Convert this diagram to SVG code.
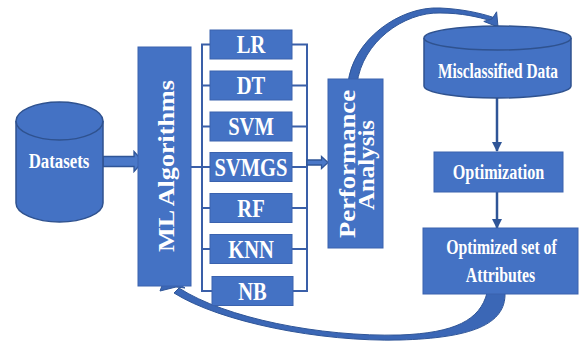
<svg xmlns="http://www.w3.org/2000/svg" width="580" height="345" viewBox="0 0 580 345">
  <style>
    .box { fill: #4472C4; stroke: #3A62AE; stroke-width: 1; }
    .cyl { fill: #4472C4; stroke: #2F528F; stroke-width: 1.5; }
    .lbl { fill: #FFFFFF; font-family: "Liberation Serif", "Times New Roman", serif; font-weight: bold; text-anchor: middle; }
    .brk { fill: none; stroke: #3A5FA8; stroke-width: 2; }
    .flow { fill: none; stroke: #2F5597; stroke-width: 2.5; }
    .band { fill: #3B67B6; stroke: #2F5597; stroke-width: 1; stroke-linejoin: round; }
    .block { fill: #4A78C8; stroke: #2F5597; stroke-width: 1.3; stroke-linejoin: miter; }
  </style>
  <defs>
    <marker id="head" viewBox="0 0 10 10" refX="9" refY="5" markerWidth="4" markerHeight="4" orient="auto" markerUnits="strokeWidth">
      <path d="M0,0 L10,5 L0,10 Z" fill="#2F5597"/>
    </marker>
  </defs>

  <rect width="580" height="345" fill="#FFFFFF"/>

  <!-- connectors -->
  <g id="connectors">
    <!-- Datasets to ML Algorithms -->
    <polygon class="block" points="103,156.5 134,156.5 134,151.5 143,161.5 134,171.5 134,166.5 103,166.5"/>
    <!-- ML Algorithms to algorithm list -->
    <line class="brk" x1="191" y1="167" x2="202" y2="167"/>
    <!-- left bracket -->
    <path class="brk" d="M210,44.5 H202 V291 H212 M202,85.5 H210 M202,126.5 H210 M202,167 H210 M202,208 H210 M202,249 H210"/>
    <!-- right bracket -->
    <path class="brk" d="M292,44.5 H307 V291 H293 M292,85.5 H307 M292,126.5 H307 M292,167 H307 M292,208 H307 M292,249 H307"/>
    <!-- list to Performance Analysis -->
    <polygon class="block" points="307,160 321.5,160 321.5,156.5 328,162.5 321.5,168.5 321.5,165 307,165"/>
    <!-- Performance Analysis to Misclassified Data -->
    <path class="band" d="M348,84 C352,40 400,6 440,8 C462,9 480,13 492.8,17.2 L491.2,20.8 C478,17 462,13 440,13 C404,12 362,42 357,84 Z"/>
    <polygon class="band" points="498,27 483.8,21.4 492,19 496.6,11.8"/>
    <!-- Misclassified Data to Optimization -->
    <line class="flow" x1="497" y1="98" x2="497" y2="151" marker-end="url(#head)"/>
    <!-- Optimization to Optimized set of Attributes -->
    <line class="flow" x1="497" y1="192" x2="497" y2="228" marker-end="url(#head)"/>
    <!-- Optimized set of Attributes back to ML Algorithms -->
    <path class="band" d="M505,293 C506,325 470,338 400,340 C320,342 220,322 174,293 L179,288 C225,318 320,337 400,335 C455,333 480,320 487,293 Z"/>
    <polygon class="band" points="166,275 185,288 176,287 160,291"/>
  </g>

  <!-- Datasets -->
  <g id="datasets">
    <path class="cyl" d="M16,121 V203 A43.5,19 0 0 0 103,203 V121"/>
    <ellipse class="cyl" cx="59.5" cy="121" rx="43.5" ry="19"/>
    <text class="lbl" transform="translate(59,168) scale(0.8,1)" font-size="21">Datasets</text>
  </g>

  <!-- ML Algorithms -->
  <g id="ml-algorithms">
    <rect class="box" x="138" y="47" width="53" height="239"/>
    <text class="lbl" transform="translate(173.5,166) rotate(-90) scale(1,0.88)" font-size="26" textLength="172" lengthAdjust="spacingAndGlyphs">ML Algorithms</text>
  </g>

  <!-- algorithm list -->
  <g id="lr">
    <rect class="box" x="210" y="30" width="82" height="29"/>
    <text class="lbl" transform="translate(251,53) scale(0.79,1)" font-size="26">LR</text>
  </g>
  <g id="dt">
    <rect class="box" x="210" y="71" width="82" height="29"/>
    <text class="lbl" transform="translate(251,94) scale(0.79,1)" font-size="26">DT</text>
  </g>
  <g id="svm">
    <rect class="box" x="210" y="112" width="82" height="29"/>
    <text class="lbl" transform="translate(251,135) scale(0.79,1)" font-size="26">SVM</text>
  </g>
  <g id="svmgs">
    <rect class="box" x="210" y="152.5" width="82" height="29"/>
    <text class="lbl" transform="translate(251,175.5) scale(0.79,1)" font-size="26">SVMGS</text>
  </g>
  <g id="rf">
    <rect class="box" x="210" y="193.5" width="82" height="29"/>
    <text class="lbl" transform="translate(251,216.5) scale(0.79,1)" font-size="26">RF</text>
  </g>
  <g id="knn">
    <rect class="box" x="210" y="234.5" width="82" height="29"/>
    <text class="lbl" transform="translate(251,257.5) scale(0.79,1)" font-size="26">KNN</text>
  </g>
  <g id="nb">
    <rect class="box" x="212" y="276.5" width="81" height="29"/>
    <text class="lbl" transform="translate(252.5,299.5) scale(0.79,1)" font-size="26">NB</text>
  </g>

  <!-- Performance Analysis -->
  <g id="performance-analysis">
    <rect class="box" x="328" y="79" width="55" height="169"/>
    <text class="lbl" transform="translate(354.5,164) rotate(-90) scale(1,0.88)" font-size="26" textLength="148" lengthAdjust="spacingAndGlyphs">Performance</text>
    <text class="lbl" transform="translate(374,165) rotate(-90) scale(1,0.88)" font-size="26" textLength="90" lengthAdjust="spacingAndGlyphs">Analysis</text>
  </g>

  <!-- Misclassified Data -->
  <g id="misclassified-data">
    <path class="cyl" d="M424,38 V86 A73.5,12 0 0 0 571,86 V38"/>
    <ellipse class="cyl" cx="497.5" cy="38" rx="73.5" ry="12"/>
    <text class="lbl" transform="translate(498,78) scale(0.77,1)" font-size="20">Misclassified Data</text>
  </g>

  <!-- Optimization -->
  <g id="optimization">
    <rect class="box" x="434" y="152" width="129" height="40"/>
    <text class="lbl" transform="translate(498.5,179) scale(0.77,1)" font-size="21">Optimization</text>
  </g>

  <!-- Optimized set of Attributes -->
  <g id="optimized-attributes">
    <rect class="box" x="423" y="228" width="155" height="66"/>
    <text class="lbl" transform="translate(501.5,254) scale(0.79,1)" font-size="20">Optimized set of</text>
    <text class="lbl" transform="translate(500.5,282) scale(0.79,1)" font-size="20">Attributes</text>
  </g>
</svg>
